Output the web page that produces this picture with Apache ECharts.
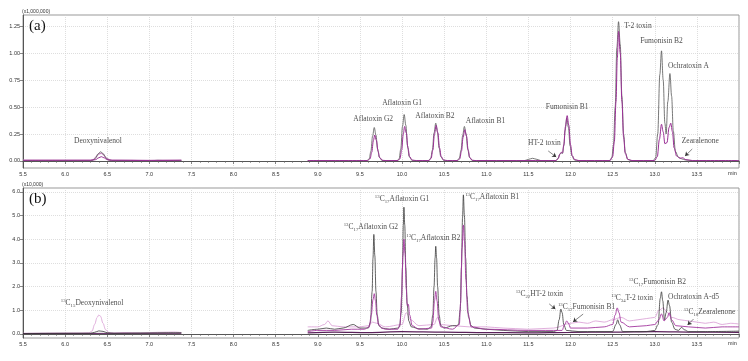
<!DOCTYPE html>
<html><head><meta charset="utf-8">
<script src="https://cdn.jsdelivr.net/npm/echarts@6/dist/echarts.min.js"></script>
<style>html,body{margin:0;padding:0;background:#fff}#c{width:748px;height:361px}</style>
</head><body><div id="c"></div>
<script>
// ---------- tick values ----------
const yTicksA = [0, 0.25, 0.5, 0.75, 1.0, 1.25];
const yTicksB = [0, 1, 2, 3, 4, 5, 6];

// ---------- panel (a) traces : retention time (min), intensity (x1,000,000) ----------
const aPink = [[5.5,0.008],[6.0,0.008],[6.3,0.008],[6.34,0.015],[6.37,0.04],[6.40,0.065],[6.43,0.072],[6.46,0.055],[6.49,0.025],[6.53,0.01],[6.58,0.008],[7.0,0.007],[7.38,0.008],[7.39,'-']];
const aDark = [[5.5,0.004],[6.0,0.004],[6.3,0.004],[6.33,0.006],[6.36,0.025],[6.39,0.065],[6.42,0.085],[6.45,0.07],[6.48,0.035],[6.51,0.01],[6.55,0.004],[7.0,0.002],[7.1,0.006],[7.2,0.003],[7.38,0.005],[7.39,'-'],
 [8.88,0.002],[9.0,0.003],[9.5,0.002],
 [9.58,0.002],[9.61,0.02],[9.63,0.09],[9.65,0.23],[9.67,0.31],[9.69,0.24],[9.71,0.11],[9.73,0.035],[9.76,0.006],[9.80,0.002],
 [9.94,0.002],[9.965,0.02],[9.985,0.11],[10.005,0.32],[10.025,0.43],[10.045,0.33],[10.065,0.14],[10.085,0.04],[10.115,0.008],[10.16,0.002],
 [10.31,0.002],[10.34,0.025],[10.36,0.1],[10.38,0.26],[10.40,0.35],[10.42,0.27],[10.44,0.12],[10.46,0.04],[10.49,0.008],[10.54,0.002],
 [10.65,0.002],[10.68,0.025],[10.70,0.1],[10.72,0.24],[10.74,0.32],[10.76,0.25],[10.78,0.11],[10.80,0.035],[10.83,0.007],[10.88,0.002],
 [11.45,0.002],[11.5,0.015],[11.55,0.025],[11.6,0.015],[11.65,0.003],
 [11.82,0.002],[11.85,0.02],[11.87,0.06],[11.885,0.075],[11.905,0.07],[11.92,0.14],[11.935,0.28],[11.955,0.40],[11.975,0.31],[11.995,0.14],[12.015,0.05],[12.045,0.01],[12.1,0.002],
 [12.46,0.002],[12.49,0.03],[12.51,0.15],[12.53,0.5],[12.55,1.05],[12.57,1.29],[12.59,1.08],[12.61,0.6],[12.63,0.25],[12.65,0.08],[12.68,0.015],[12.72,0.003],
 [12.98,0.002],[13.01,0.03],[13.035,0.25],[13.06,0.8],[13.08,1.02],[13.10,0.75],[13.12,0.35],[13.135,0.25],[13.155,0.55],[13.18,0.81],[13.20,0.6],[13.22,0.28],[13.245,0.09],[13.28,0.035],[13.32,0.02],[13.36,0.01],[13.45,0.003],[14.0,0.002]];
const aMagenta = [[5.5,0.006],[6.3,0.006],[6.36,0.012],[6.40,0.03],[6.43,0.04],[6.46,0.03],[6.5,0.012],[6.56,0.006],[7.0,0.004],[7.38,0.006],[7.39,'-'],
 [8.88,0.004],[9.5,0.004],
 [9.59,0.004],[9.62,0.02],[9.64,0.08],[9.66,0.19],[9.675,0.24],[9.695,0.19],[9.715,0.09],[9.735,0.03],[9.77,0.006],[9.81,0.004],
 [9.95,0.004],[9.975,0.02],[9.995,0.1],[10.015,0.25],[10.03,0.32],[10.05,0.26],[10.07,0.12],[10.09,0.04],[10.12,0.008],[10.17,0.004],
 [10.32,0.004],[10.345,0.025],[10.365,0.1],[10.385,0.25],[10.405,0.33],[10.425,0.26],[10.445,0.12],[10.465,0.04],[10.495,0.008],[10.54,0.004],
 [10.66,0.004],[10.685,0.02],[10.705,0.09],[10.725,0.22],[10.745,0.29],[10.765,0.23],[10.785,0.1],[10.805,0.03],[10.835,0.006],[10.88,0.004],
 [11.83,0.004],[11.855,0.025],[11.875,0.065],[11.89,0.08],[11.905,0.075],[11.92,0.15],[11.94,0.32],[11.96,0.42],[11.98,0.33],[12.0,0.15],[12.02,0.05],[12.05,0.012],[12.1,0.004],
 [12.47,0.004],[12.50,0.04],[12.52,0.18],[12.54,0.55],[12.555,0.95],[12.57,1.2],[12.59,1.0],[12.61,0.55],[12.63,0.22],[12.65,0.07],[12.68,0.015],[12.73,0.004],
 [13.0,0.004],[13.03,0.04],[13.055,0.2],[13.08,0.34],[13.10,0.27],[13.12,0.16],[13.145,0.17],[13.17,0.31],[13.19,0.35],[13.21,0.27],[13.23,0.12],[13.26,0.045],[13.3,0.025],[13.33,0.03],[13.37,0.012],[13.45,0.004],[14.0,0.004]];

// ---------- panel (b) traces : intensity (x10,000) ----------
const bPink = [[5.5,0.03],[6.2,0.04],[6.28,0.05],[6.32,0.12],[6.35,0.4],[6.38,0.7],[6.40,0.8],[6.42,0.75],[6.45,0.45],[6.48,0.18],[6.52,0.06],[6.58,0.04],[6.7,0.06],[6.9,0.04],[7.1,0.07],[7.3,0.08],[7.38,0.06],[7.39,'-'],
 [8.88,0.3],[9.0,0.3],[9.08,0.4],[9.12,0.55],[9.17,0.35],[9.3,0.3],[9.5,0.3],[9.6,0.35],[9.65,0.5],[9.7,0.45],[9.8,0.3],[10.0,0.4],[10.05,0.9],[10.1,0.6],[10.2,0.35],[10.38,0.4],[10.42,0.7],[10.46,0.4],[10.6,0.35],[10.8,0.3],[11.0,0.3],[11.2,0.25],[11.5,0.2],[11.8,0.25],[12.0,0.45],[12.1,0.5],[12.2,0.45],[12.3,0.55],[12.4,0.5],[12.5,0.6],[12.6,0.7],[12.7,0.55],[12.8,0.6],[12.9,0.65],[13.0,0.7],[13.05,1.0],[13.1,1.1],[13.15,0.9],[13.2,0.7],[13.3,0.6],[13.4,0.55],[13.5,0.5],[13.6,0.45],[13.7,0.5],[13.8,0.4],[13.9,0.45],[14.0,0.42]];
const bPurple = [[5.5,0.02],[7.38,0.03],[7.39,'-'],
 [8.88,0.05],[9.2,0.08],[9.6,0.06],[10.0,0.1],[10.5,0.08],[11.0,0.06],[11.5,0.05],[12.0,0.07],[12.5,0.08],[13.0,0.1],[13.5,0.08],[14.0,0.07]];
const bDark = [[5.5,0.02],[6.0,0.03],[6.3,0.03],[6.35,0.07],[6.40,0.13],[6.45,0.11],[6.5,0.05],[6.58,0.03],[7.0,0.04],[7.2,0.05],[7.38,0.05],[7.39,'-'],
 [8.88,0.15],[9.0,0.2],[9.1,0.25],[9.2,0.2],[9.3,0.25],[9.42,0.4],[9.5,0.25],[9.58,0.25],
 [9.60,0.25],[9.625,0.5],[9.645,1.8],[9.655,3.2],[9.665,4.2],[9.677,3.3],[9.69,1.8],[9.705,0.8],[9.725,0.35],[9.76,0.25],[9.85,0.2],[9.95,0.25],
 [9.97,0.3],[9.99,0.9],[10.005,2.8],[10.015,4.6],[10.022,5.35],[10.032,4.6],[10.045,2.8],[10.06,1.3],[10.08,0.55],[10.11,0.3],[10.2,0.22],[10.3,0.2],
 [10.345,0.3],[10.365,0.8],[10.38,2.0],[10.392,3.2],[10.40,3.7],[10.41,3.2],[10.422,2.0],[10.44,0.8],[10.46,0.35],[10.5,0.25],[10.6,0.35],[10.65,0.35],
 [10.67,0.4],[10.69,1.0],[10.705,2.8],[10.718,4.9],[10.728,5.87],[10.74,5.0],[10.755,3.2],[10.77,1.6],[10.79,0.7],[10.82,0.35],[10.86,0.25],[11.0,0.2],[11.2,0.15],[11.5,0.1],[11.8,0.1],
 [11.84,0.15],[11.865,0.6],[11.885,1.05],[11.9,0.9],[11.92,0.4],[11.95,0.15],[12.1,0.1],[12.5,0.1],[12.54,0.4],[12.56,0.6],[12.58,0.4],[12.62,0.1],[12.9,0.1],[13.0,0.15],
 [13.04,0.4],[13.065,1.5],[13.08,1.78],[13.095,1.4],[13.115,0.6],[13.135,0.9],[13.158,1.43],[13.175,1.2],[13.2,0.5],[13.24,0.2],[13.28,0.15],[13.32,0.28],[13.35,0.18],[13.4,0.1],[13.6,0.1],[14.0,0.12]];
const bMagenta = [[8.88,0.1],[9.0,0.15],[9.2,0.15],[9.4,0.2],[9.55,0.2],
 [9.61,0.3],[9.635,0.8],[9.655,1.45],[9.67,1.7],[9.685,1.4],[9.7,0.8],[9.72,0.4],[9.76,0.25],[9.8,0.2],[9.95,0.2],
 [9.975,0.4],[9.995,1.6],[10.01,3.3],[10.022,4.0],[10.035,3.4],[10.05,1.9],[10.062,1.2],[10.075,1.25],[10.09,0.8],[10.12,0.35],[10.2,0.2],[10.35,0.25],
 [10.365,0.5],[10.385,1.4],[10.40,1.8],[10.415,1.4],[10.435,0.6],[10.46,0.3],[10.6,0.2],[10.68,0.4],
 [10.695,1.3],[10.712,3.6],[10.728,4.6],[10.742,3.9],[10.758,2.3],[10.78,0.9],[10.82,0.3],[11.0,0.2],[11.5,0.15],[11.9,0.15],
 [11.93,0.4],[11.955,0.55],[11.975,0.45],[12.0,0.25],[12.2,0.25],[12.4,0.3],[12.5,0.4],
 [12.53,0.8],[12.555,1.1],[12.575,0.9],[12.6,0.5],[12.7,0.3],[12.9,0.35],[13.0,0.4],
 [13.05,0.6],[13.08,0.85],[13.11,0.55],[13.15,0.7],[13.17,0.9],[13.2,0.6],[13.25,0.35],[13.4,0.3],[13.6,0.25],[13.8,0.3],[14.0,0.3]];

// ---------- annotations (data coordinates) ----------
const annotA = [
 ['Deoxynivalenol',6.39,0.185],['Aflatoxin G2',9.657,0.39],['Aflatoxin G1',10.0,0.537],['Aflatoxin B2',10.39,0.417],
 ['Aflatoxin B1',10.99,0.37],['HT-2 toxin',11.69,0.167],['Fumonisin B1',11.96,0.5],['T-2 toxin',12.80,1.25],
 ['Fumonisin B2',13.08,1.11],['Ochratoxin A',13.40,0.88],['Zearalenone',13.54,0.185]];
const arrowsA = [[11.735,0.093,11.83,0.037],[13.445,0.111,13.36,0.046]];
const annotB = [
 ['{sup|13}C{sub|15}Deoxynivalenol',6.32,1.31],['{sup|13}C{sub|17}Aflatoxin G2',9.63,4.51],['{sup|13}C{sub|17}Aflatoxin G1',10.0,5.70],
 ['{sup|13}C{sub|17}Aflatoxin B2',10.37,4.05],['{sup|13}C{sub|17}Aflatoxin B1',11.07,5.78],['{sup|13}C{sub|22}HT-2 toxin',11.63,1.69],
 ['{sup|13}C{sub|17}Fumonisin B1',12.19,1.14],['{sup|13}C{sub|34}T-2 toxin',12.73,1.52],['{sup|13}C{sub|17}Fumonisin B2',13.03,2.19],
 ['Ochratoxin A-d5',13.46,1.56],['{sup|13}C{sub|18}Zearalenone',13.65,0.93]];
const arrowsB = [[11.747,1.27,11.82,1.05],[12.15,0.84,12.03,0.51],[13.46,0.63,13.39,0.38]];

const SERIF = '"Liberation Serif","DejaVu Serif",serif';
const SANS = '"Liberation Sans","DejaVu Sans",sans-serif';
const chart = echarts.init(document.getElementById('c'), null, {renderer:'canvas'});

function xAxisDef(idx){
  return {type:'value', gridIndex:idx, min:5.5, max:14.0, interval:0.5,
    axisLine:{show:true, lineStyle:{color:'#555', width:1}},
    axisTick:{show:true, inside:false, length:3, lineStyle:{color:'#555', width:0.7}},
    minorTick:{show:true, splitNumber:5, length:2, lineStyle:{color:'#666', width:0.6}},
    axisLabel:{fontSize:5.5, fontFamily:SANS, color:'#333', margin:3, showMaxLabel:false,
      formatter:v=>v.toFixed(1)},
    splitLine:{show:true, lineStyle:{color:'#d0d0d0', type:[1,1], width:0.7}}};
}
function yAxisDef(idx, min, max, ticks, dec){
  return {type:'value', gridIndex:idx, min:min, max:max,
    axisLine:{show:true, lineStyle:{color:'#555', width:1}},
    axisTick:{show:true, length:3, customValues:ticks, lineStyle:{color:'#555', width:0.7}},
    axisLabel:{fontSize:5.5, fontFamily:SANS, color:'#333', margin:3, customValues:ticks,
      formatter:v=>Number(v).toFixed(dec)},
    splitLine:{show:true, lineStyle:{color:'#d0d0d0', type:[1,1], width:0.7}}};
}
function lineS(data, color, width, xi, z){
  return {type:'line', data:data, xAxisIndex:xi, yAxisIndex:xi, showSymbol:false, symbol:'none',
    smooth:0.35, smoothMonotone:'x', lineStyle:{color:color, width:width}, z:z, silent:true, animation:false};
}
const rich = {
  sup:{fontSize:4.8, fontFamily:SERIF, color:'#222', verticalAlign:'top', lineHeight:10},
  sub:{fontSize:4.8, fontFamily:SERIF, color:'#222', verticalAlign:'bottom', lineHeight:10}
};
function annS(list, xi){
  return {type:'scatter', xAxisIndex:xi, yAxisIndex:xi, symbolSize:1, itemStyle:{color:'rgba(0,0,0,0)'},
    data:list.map(a=>({name:a[0], value:[a[1],a[2]]})), z:10, silent:true, animation:false,
    label:{show:true, position:'inside', formatter:p=>p.name, fontFamily:SERIF, fontSize:7.5, color:'#1a1a1a', lineHeight:10, rich:rich}};
}
function arrowS(list, xi){
  return {type:'lines', coordinateSystem:'cartesian2d', xAxisIndex:xi, yAxisIndex:xi,
    symbol:['none','arrow'], symbolSize:4, lineStyle:{color:'#333', width:0.6, curveness:0, opacity:1},
    data:list.map(a=>({coords:[[a[0],a[1]],[a[2],a[3]]]})), z:10, silent:true, animation:false};
}

chart.setOption({
  animation:false,
  backgroundColor:'#fff',
  grid:[
    {left:23, top:15, width:716, height:153, show:true, borderColor:'#999', borderWidth:1, containLabel:false},
    {left:23, top:188, width:716, height:150, show:true, borderColor:'#999', borderWidth:1, containLabel:false}
  ],
  xAxis:[xAxisDef(0), xAxisDef(1)],
  yAxis:[yAxisDef(0,-0.065,1.352,yTicksA,2), yAxisDef(1,-0.17,6.16,yTicksB,1)],
  graphic:[
    {type:'text', left:22, top:9, style:{text:'(x1,000,000)', fontSize:5, fontFamily:SANS, fill:'#333'}},
    {type:'text', left:22, top:182, style:{text:'(x10,000)', fontSize:5, fontFamily:SANS, fill:'#333'}},
    {type:'text', left:29, top:19, style:{text:'(a)', fontSize:15, fontFamily:SERIF, fill:'#111'}},
    {type:'text', left:29, top:192, style:{text:'(b)', fontSize:15, fontFamily:SERIF, fill:'#111'}},
    {type:'text', left:728, top:170, style:{text:'min', fontSize:5.5, fontFamily:SANS, fill:'#333'}},
    {type:'text', left:728, top:340, style:{text:'min', fontSize:5.5, fontFamily:SANS, fill:'#333'}}
  ],
  series:[
    lineS(aPink,'#c58ac0',1.2,0,2),
    lineS(aDark,'#555555',0.8,0,3),
    lineS(aMagenta,'#9a2f95',1,0,4),
    lineS(bPink,'#d89ad3',0.8,1,2),
    lineS(bPurple,'#5a215a',1.2,1,2),
    lineS(bDark,'#3a3a3a',0.8,1,3),
    lineS(bMagenta,'#a3379e',0.9,1,4),
    annS(annotA,0), annS(annotB,1), arrowS(arrowsA,0), arrowS(arrowsB,1)
  ]
});
</script></body></html>
